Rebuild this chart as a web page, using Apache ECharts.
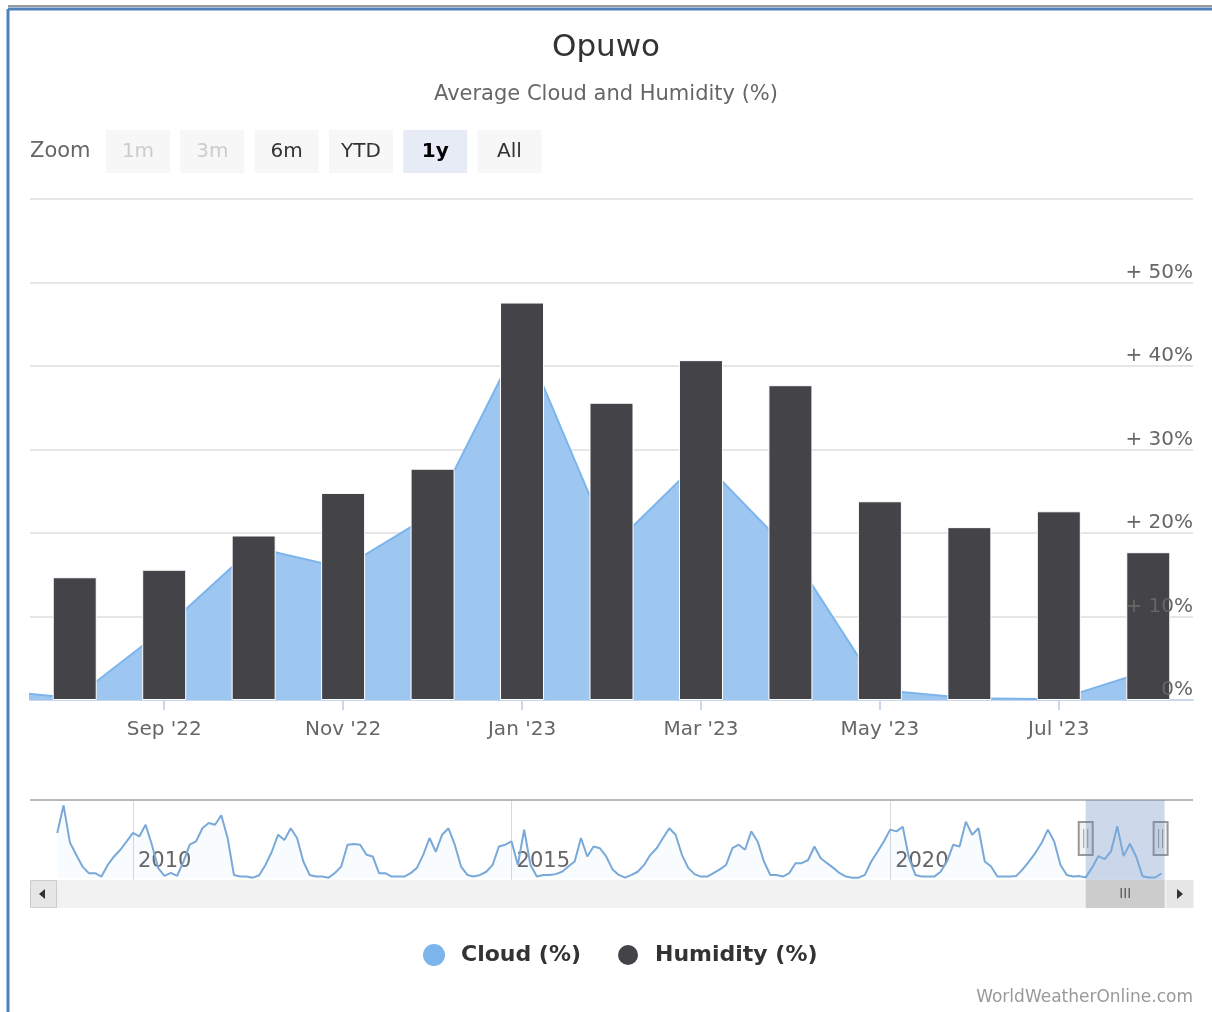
<!DOCTYPE html>
<html>
<head>
<meta charset="utf-8">
<title>Opuwo - Average Cloud and Humidity</title>
<script src="https://cdn.jsdelivr.net/npm/echarts@6/dist/echarts.min.js"></script>
<style>
  html, body { margin: 0; padding: 0; background: #fff; }
  #chart { width: 1212px; height: 1012px; }
</style>
</head>
<body>
<div id="chart"></div>
<script>
// months in the zoomed window (1y)
const months = ["Aug '22", "Sep '22", "Oct '22", "Nov '22", "Dec '22", "Jan '23", "Feb '23",
                "Mar '23", "Apr '23", "May '23", "Jun '23", "Jul '23", "Aug '23"];
const humidity = [14.7, 15.6, 19.7, 24.8, 27.7, 47.6, 35.6, 40.7, 37.7, 23.8, 20.7, 22.6, 17.7];

// monthly cloud cover, Jan 2009 .. Aug 2023 (read from navigator + main plot)
const cloudStartYear = 2009;
const cloud = [
  38, 61.5, 30, 19.4, 9.4, 3.8, 3.8, 0.9, 10.8, 18, 23.7, 30.8,      // 2009
  38, 35, 45, 28, 8, 1.5, 4, 1.5, 13.7, 28, 30.8, 42,                // 2010
  46.5, 45, 53, 33.7, 2.3, 0.9, 0.9, 0, 2, 10.8, 22, 36.5,           // 2011
  32, 42, 33.7, 13.7, 2.3, 0.9, 0.9, 0, 4, 9.4, 28, 28.5,            // 2012
  28, 19.4, 18, 3.8, 3.8, 0.9, 0.9, 0.9, 3.8, 8.3, 19.4, 33.7,       // 2013
  22, 36.5, 42, 28, 9.4, 2.3, 0.9, 2.3, 5, 10.8, 26.5, 28,           // 2014
  30.8, 10.8, 40.8, 10.8, 0.9, 2.3, 2.3, 3, 5, 9.4, 13.7, 33.7,      // 2015
  18, 26.5, 25, 18, 7, 2.3, 0, 2.3, 5, 10.8, 19.4, 25,               // 2016
  33.7, 42, 36.5, 19.4, 8.3, 3, 0.9, 0.9, 3.8, 7, 10.8, 25,          // 2017
  28, 23.7, 39.3, 30.8, 13.7, 2.3, 2.3, 0.9, 3.8, 12.3, 12.3, 15,    // 2018
  26.5, 16.5, 12.3, 8.3, 3.8, 0.9, 0, 0, 2.3, 13.7, 22, 30.8,        // 2019
  40.8, 39.3, 43.3, 16.5, 2.3, 0.9, 0.9, 0.9, 5, 13.7, 28, 26.5,     // 2020
  47.6, 36.5, 42, 13.7, 9.4, 0.9, 0.9, 0.9, 1.5, 7, 13.7, 20.9,      // 2021
  29.4, 40.8, 30.8, 10.8, 2.3, 0.9, 1.3, 0.2, 8.5, 18.3, 15.8, 22.3, // 2022
  43.6, 18.3, 28.8, 17.8, 1.2, 0.2, 0.1, 3.5                         // 2023
];

const navYears = [2010, 2015, 2020];
const zoomButtons = ['1m', '3m', '6m', 'YTD', '1y', 'All'];
const zoomState = ['off', 'off', 'on', 'on', 'sel', 'on'];

const FONT = 'DejaVu Sans';
const firstIdx = cloud.length - months.length;   // Aug '22

// main area: one point before the window so the fill reaches the left edge
const cloudWindow = [];
for (let i = firstIdx - 1; i < cloud.length; i++) {
  cloudWindow.push([i - firstIdx, cloud[i]]);
}
const cloudNav = cloud.map((v, i) => [cloudStartYear + i / 12, v]);
const winStart = cloudStartYear + firstIdx / 12;
const winEnd = cloudStartYear + (cloud.length - 1) / 12 + 0.5 / 12;

const chart = echarts.init(document.getElementById('chart'));

const option = {
  animation: false,
  textStyle: { fontFamily: FONT },
  title: [
    { text: 'Opuwo', left: 'center', top: 27,
      textStyle: { fontSize: 31, fontWeight: 'normal', color: '#333', fontFamily: FONT } },
    { text: 'Average Cloud and Humidity (%)', left: 'center', top: 79,
      textStyle: { fontSize: 21, fontWeight: 'normal', color: '#666', fontFamily: FONT } }
  ],
  legend: {
    data: ['Cloud (%)', 'Humidity (%)'],
    left: 423, top: 943, padding: 0,
    icon: 'circle', itemWidth: 44, itemHeight: 22, itemGap: 35,
    textStyle: { fontSize: 22, fontWeight: 'bold', color: '#333', fontFamily: FONT }
  },
  grid: [
    { left: 30, right: 19, top: 199, height: 501, outerBoundsMode: 'none' },
    { left: 30, right: 19, top: 800, height: 80, outerBoundsMode: 'none' }
  ],
  xAxis: [
    {
      type: 'category', gridIndex: 0, data: months, boundaryGap: true,
      axisLine: { lineStyle: { color: '#ccd6eb', width: 2 } },
      axisTick: { show: true, alignWithLabel: true, length: 10,
                  interval: (i) => i % 2 === 1, lineStyle: { color: '#ccd6eb', width: 2 } },
      axisLabel: { interval: (i) => i % 2 === 1, color: '#666', fontSize: 20, margin: 20 },
      splitLine: { show: false }
    },
    {
      type: 'value', gridIndex: 0, min: -0.5, max: months.length - 0.5, show: false
    },
    {
      type: 'value', gridIndex: 1, min: 2008.64, max: 2024.0,
      axisLine: { show: false },
      axisTick: { show: false, customValues: navYears },
      axisLabel: { show: true, inside: true, customValues: navYears, align: 'left',
                   margin: 8, padding: [0, 0, 0, 5], color: '#666', fontSize: 21,
                   formatter: (v) => String(Math.round(v)) },
      splitLine: { show: true, lineStyle: { color: '#d9d9d9', width: 1 } }
    }
  ],
  yAxis: [
    {
      // gridlines only, kept behind the columns
      type: 'value', gridIndex: 0, position: 'left', min: 0, max: 60, interval: 10,
      axisLine: { show: false }, axisTick: { show: false }, axisLabel: { show: false },
      splitLine: { lineStyle: { color: '#e6e6e6', width: 2 } }
    },
    { type: 'value', gridIndex: 1, min: -2, max: 66, show: false },
    {
      // labels drawn over the columns, like the original
      type: 'value', gridIndex: 0, position: 'right', min: 0, max: 60, interval: 10, z: 6,
      axisLine: { show: false }, axisTick: { show: false }, splitLine: { show: false },
      axisLabel: { inside: true, margin: 0, color: '#666', fontSize: 20, verticalAlign: 'bottom',
                   formatter: (v) => v === 60 ? '' : (v === 0 ? '0%' : '+ ' + v + '%') }
    }
  ],
  series: [
    {
      name: 'Cloud (%)', type: 'line', xAxisIndex: 1, yAxisIndex: 0, z: 1,
      data: cloudWindow, symbol: 'none', clip: true,
      itemStyle: { color: '#7cb5ec' },
      lineStyle: { color: '#7cb5ec', width: 2 },
      areaStyle: { color: '#9dc7f1', opacity: 1 }
    },
    {
      name: 'Humidity (%)', type: 'bar', xAxisIndex: 0, yAxisIndex: 0, z: 3,
      data: humidity, barWidth: 44,
      itemStyle: { color: '#434348', borderColor: '#fff', borderWidth: 1 }
    },
    {
      name: 'navigator', type: 'line', xAxisIndex: 2, yAxisIndex: 1,
      data: cloudNav, symbol: 'none', silent: true,
      lineStyle: { color: '#79a9d8', width: 2 },
      areaStyle: { color: 'rgba(124,181,236,0.06)' },
      markArea: {
        silent: true,
        itemStyle: { color: 'rgba(102,133,194,0.32)' },
        data: [[{ xAxis: winStart }, { xAxis: winEnd }]]
      }
    }
  ]
};

chart.setOption(option);

// range selector, navigator handles, scrollbar, credits
const graphics = [];
graphics.push({ type: 'line', shape: { x1: 8, y1: 6, x2: 1212, y2: 6 }, style: { stroke: '#333', lineWidth: 1 } });
graphics.push({ type: 'line', shape: { x1: 8, y1: 9, x2: 1212, y2: 9 }, style: { stroke: '#4f81bd', lineWidth: 3 } });
graphics.push({ type: 'line', shape: { x1: 8, y1: 9, x2: 8, y2: 1012 }, style: { stroke: '#4f81bd', lineWidth: 3 } });

graphics.push({ type: 'text', x: 30, y: 152,
  style: { text: 'Zoom', fill: '#666', font: '21px ' + FONT, verticalAlign: 'middle' } });
zoomButtons.forEach((b, i) => {
  const x = 106 + i * 74.3;
  const st = zoomState[i];
  graphics.push({ type: 'rect', shape: { x: x, y: 130, width: 64, height: 43 },
    style: { fill: st === 'sel' ? '#e6ebf5' : '#f7f7f7' } });
  graphics.push({ type: 'text', x: x + 32, y: 151.5,
    style: { text: b, align: 'center', verticalAlign: 'middle',
      fill: st === 'off' ? '#cccccc' : (st === 'sel' ? '#000' : '#333'),
      font: (st === 'sel' ? 'bold ' : '') + '20px ' + FONT } });
});

// navigator outline
graphics.push({ type: 'line', shape: { x1: 30, y1: 800, x2: 1193, y2: 800 },
  style: { stroke: '#b8b8b8', lineWidth: 2 } });

const px0 = chart.convertToPixel({ xAxisIndex: 2 }, winStart);
const px1 = chart.convertToPixel({ xAxisIndex: 2 }, winEnd);

// scrollbar
graphics.push({ type: 'rect', shape: { x: 30, y: 880, width: 1163, height: 28 }, style: { fill: '#f2f2f2' } });
graphics.push({ type: 'rect', shape: { x: px0, y: 880, width: px1 - px0, height: 28 }, style: { fill: '#cccccc' } });
const tc = (px0 + px1) / 2;
[-4, 0, 4].forEach(d => {
  graphics.push({ type: 'line', shape: { x1: tc + d, y1: 888, x2: tc + d, y2: 898 }, style: { stroke: '#333', lineWidth: 1 } });
});
graphics.push({ type: 'rect', shape: { x: 30.5, y: 880.5, width: 26, height: 27 }, style: { fill: '#e6e6e6', stroke: '#cccccc', lineWidth: 1 } });
graphics.push({ type: 'polygon', shape: { points: [[39, 894], [45, 889], [45, 899]] }, style: { fill: '#333' } });
graphics.push({ type: 'rect', shape: { x: 1167, y: 880.5, width: 26, height: 27 }, style: { fill: '#e6e6e6', stroke: '#e6e6e6', lineWidth: 1 } });
graphics.push({ type: 'polygon', shape: { points: [[1183, 894], [1177, 889], [1177, 899]] }, style: { fill: '#333' } });

// navigator handles
[px0, px1 - 4].forEach(e => {
  graphics.push({ type: 'rect', shape: { x: e - 7, y: 822, width: 14, height: 33 },
    style: { fill: '#f2f2f2', stroke: '#999', lineWidth: 2 } });
  [-2, 2].forEach(d => {
    graphics.push({ type: 'line', shape: { x1: e + d, y1: 829, x2: e + d, y2: 848 },
      style: { stroke: '#999', lineWidth: 1 } });
  });
});

graphics.push({ type: 'text', right: 19, top: 989,
  style: { text: 'WorldWeatherOnline.com', fill: '#999', font: '17px ' + FONT } });

chart.setOption({ graphic: graphics });
</script>
</body>
</html>
